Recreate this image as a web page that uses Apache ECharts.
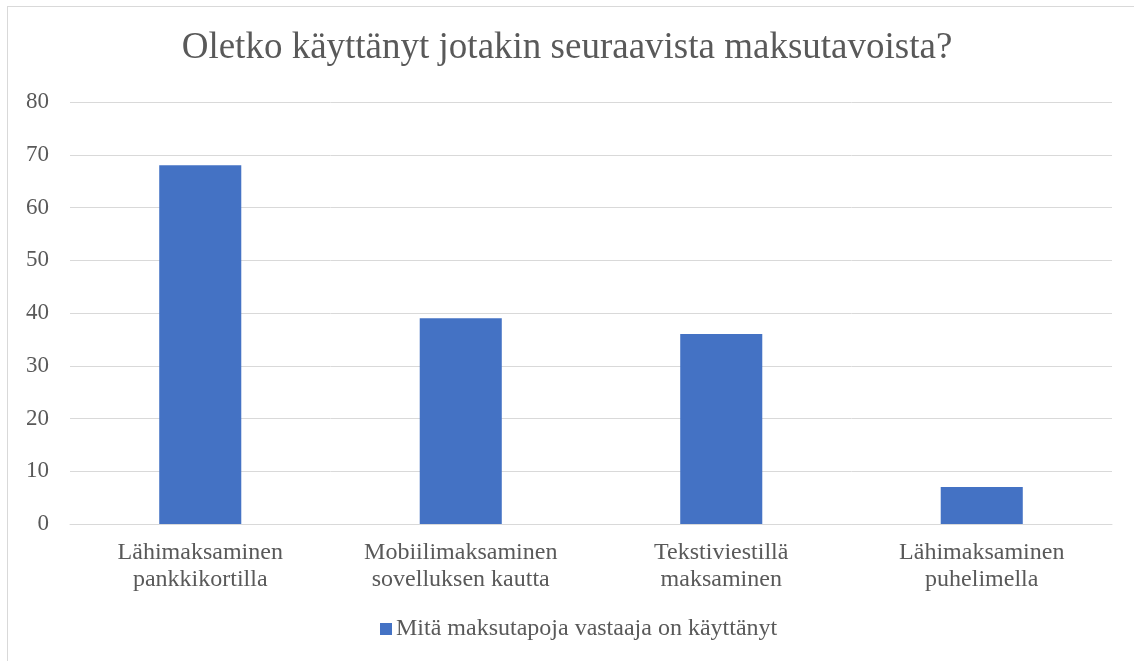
<!DOCTYPE html>
<html>
<head>
<meta charset="utf-8">
<script src="https://cdn.jsdelivr.net/npm/echarts@6/dist/echarts.min.js"></script>
<style>
html,body{margin:0;padding:0;background:#fff;}
#frame{position:absolute;left:7px;top:6px;width:1140px;height:670px;border:1px solid #d9d9d9;box-sizing:border-box;}
#chart{position:absolute;left:0;top:0;width:1134px;height:661px;}
</style>
</head>
<body>
<div id="frame"></div>
<div id="chart"></div>
<script>
const titleText = "Oletko käyttänyt jotakin seuraavista maksutavoista?";
const categories = ["Lähimaksaminen\npankkikortilla", "Mobiilimaksaminen\nsovelluksen kautta", "Tekstiviestillä\nmaksaminen", "Lähimaksaminen\npuhelimella"];
const seriesName = "Mitä maksutapoja vastaaja on käyttänyt";
const values = [68, 39, 36, 7];

const font = "'Liberation Serif', 'Times New Roman', serif";
const chart = echarts.init(document.getElementById('chart'), null, {renderer: 'canvas'});
chart.setOption({
  animation: false,
  backgroundColor: 'transparent',
  title: {
    text: titleText,
    left: 'center',
    top: 25,
    textStyle: {fontFamily: font, fontSize: 37, fontWeight: 'normal', color: '#595959'}
  },
  grid: {left: 70, right: 22, top: 102, bottom: 137, containLabel: false},
  legend: {
    bottom: 15,
    left: 375,
    itemWidth: 12,
    itemHeight: 12,
    itemGap: 10,
    icon: 'rect',
    textStyle: {fontFamily: font, fontSize: 24, color: '#595959', padding: [0, 0, 0, -1]},
    data: [seriesName]
  },
  xAxis: {
    type: 'category',
    data: categories,
    axisLine: {show: true, lineStyle: {color: '#d9d9d9', width: 1}},
    axisTick: {show: false},
    axisLabel: {fontFamily: font, fontSize: 24, color: '#595959', margin: 15, lineHeight: 27, interval: 0}
  },
  yAxis: {
    type: 'value',
    min: 0,
    max: 80,
    interval: 10,
    axisLine: {show: false},
    axisTick: {show: false},
    splitLine: {lineStyle: {color: '#d9d9d9', width: 1}},
    axisLabel: {fontFamily: font, fontSize: 23, color: '#595959', margin: 21}
  },
  series: [{
    name: seriesName,
    type: 'bar',
    data: values,
    barWidth: '31.5%',
    itemStyle: {color: '#4472c4'}
  }]
});
</script>
</body>
</html>
